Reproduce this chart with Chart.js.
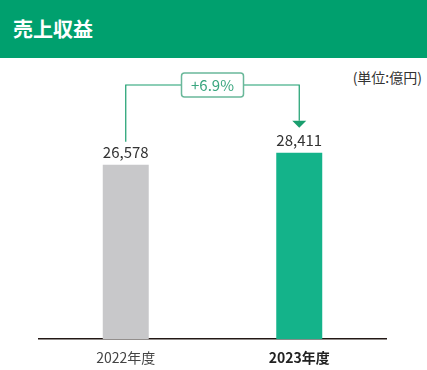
<!DOCTYPE html>
<html lang="ja">
<head>
<meta charset="utf-8">
<script src="https://cdn.jsdelivr.net/npm/chart.js@4/dist/chart.umd.min.js"></script>
<style>
  body { margin: 0; background: #fff; font-family: "Noto Sans CJK JP", sans-serif; }
  #wrap { position: relative; width: 427px; height: 370px; overflow: hidden; }
  #head { height: 58px; background: #00a06e; color: #fff; font-size: 20px; font-weight: bold;
          line-height: 58px; padding-left: 13px; box-sizing: border-box; }
  #unit { position: absolute; right: 5px; top: 67px; font-size: 14px; color: #333; }
  #box { position: absolute; left: 0; top: 58px; width: 427px; height: 310px; }
</style>
</head>
<body>
<div id="wrap">
  <div id="head">売上収益</div>
  <div id="unit">(単位:億円)</div>
  <div id="box"><canvas id="graficoVentas"></canvas></div>
</div>
<script>
// datos
const years = ["2022年度", "2023年度"];
const revenue = [26578, 28411];
const growthLabel = "+6.9%";
const barColors = ["#c8c8ca", "#14b38a"];

// etiquetas de valor y flecha de crecimiento
const annotate = {
  id: "annotate",
  afterDatasetsDraw(chart) {
    const ctx = chart.ctx;
    const bars = chart.getDatasetMeta(0).data;
    ctx.save();
    ctx.font = "15px 'Noto Sans CJK JP'";
    ctx.fillStyle = "#333";
    ctx.textAlign = "center";
    ctx.textBaseline = "middle";
    bars.forEach((b, i) => {
      ctx.fillText(revenue[i].toLocaleString("en-US"), b.x, b.y - 12);
    });

    const x0 = bars[0].x, x1 = bars[1].x;
    const yTop = 27;
    const midX = (x0 + x1) / 2;
    ctx.strokeStyle = "#1a9e6e";
    ctx.lineWidth = 1.2;
    ctx.beginPath();
    ctx.moveTo(x0, bars[0].y - 23);
    ctx.lineTo(x0, yTop);
    ctx.lineTo(x1, yTop);
    ctx.lineTo(x1, bars[1].y - 32);
    ctx.stroke();
    ctx.fillStyle = "#1a9e6e";
    ctx.beginPath();
    ctx.moveTo(x1 - 7, bars[1].y - 32);
    ctx.lineTo(x1 + 7, bars[1].y - 32);
    ctx.lineTo(x1, bars[1].y - 25);
    ctx.closePath();
    ctx.fill();

    // caja
    const w = 62, h = 24;
    ctx.fillStyle = "#fff";
    ctx.strokeStyle = "#6ab89a";
    ctx.lineWidth = 1.5;
    ctx.beginPath();
    ctx.roundRect(midX - w / 2, yTop - h / 2, w, h, 3);
    ctx.fill();
    ctx.stroke();
    ctx.fillStyle = "#3aa67f";
    ctx.font = "15px 'Noto Sans CJK JP'";
    ctx.fillText(growthLabel, midX, yTop);
    ctx.restore();
  }
};

new Chart(document.getElementById("graficoVentas").getContext("2d"), {
  type: "bar",
  data: {
    labels: years,
    datasets: [{
      data: revenue,
      backgroundColor: barColors,
      categoryPercentage: 1,
      barPercentage: 0.265
    }]
  },
  options: {
    responsive: true,
    maintainAspectRatio: false,
    animation: false,
    layout: { padding: { left: 39, right: 41, top: 0, bottom: 0 } },
    plugins: { legend: { display: false }, tooltip: { enabled: false } },
    scales: {
      x: {
        grid: { display: false },
        border: { display: true, color: "#231815", width: 1.5 },
        ticks: {
          padding: 2,
          color: ctx => ctx.index === 1 ? "#222" : "#444",
          font: ctx => ({ family: "'Noto Sans CJK JP'", size: 14, weight: ctx.index === 1 ? "bold" : "normal" })
        }
      },
      y: { display: false, min: 0, max: 42845 }
    }
  },
  plugins: [annotate]
});
</script>
</body>
</html>
